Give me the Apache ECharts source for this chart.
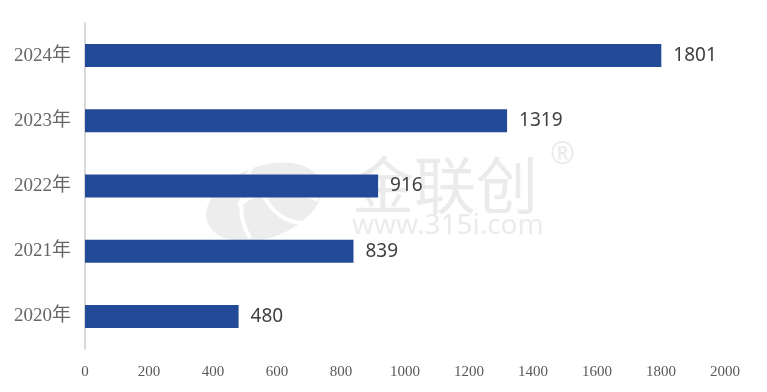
<!DOCTYPE html>
<html><head><meta charset="utf-8">
<script src="https://cdn.jsdelivr.net/npm/echarts@6/dist/echarts.min.js"></script>
<style>html,body{margin:0;padding:0;background:#fff}#c{width:767px;height:392px}</style>
</head><body><div id="c"></div>
<script>
const categories = ['2020年','2021年','2022年','2023年','2024年'];
const values = [480, 839, 916, 1319, 1801];
const xTicks = [0,200,400,600,800,1000,1200,1400,1600,1800,2000];

const chart = echarts.init(document.getElementById('c'));
chart.setOption({
  animation: false,
  graphic: [
    {type:'ellipse', z: 0, x: 264, y: 202, rotation: 0.35, shape:{cx:0, cy:0, rx:60, ry:36}, style:{fill:'#ededed'}},
    {type:'bezierCurve', z: 0, shape:{x1:252,y1:166,cpx1:240,cpy1:190,cpx2:236,cpy2:215,x2:250,y2:238}, style:{fill:null, stroke:'#fff', lineWidth:4}},
    {type:'bezierCurve', z: 0, shape:{x1:238,y1:205,cpx1:262,cpy1:188,cpx2:292,cpy2:186,x2:318,y2:200}, style:{fill:null, stroke:'#fff', lineWidth:4}},
    {type:'bezierCurve', z: 0, shape:{x1:262,y1:192,cpx1:272,cpy1:215,cpx2:290,cpy2:228,x2:322,y2:222}, style:{fill:null, stroke:'#fff', lineWidth:4}},
    {type:'text', left: 352, top: 154, z: 0, style:{text:'金联创', fontSize: 62, fill:'#ebebeb', fontFamily:'Noto Sans CJK SC'}},
    {type:'text', left: 352, top: 212, z: 0, style:{text:'www.315i.com', fontSize: 28, fill:'#ebebeb', fontFamily:'Noto Sans'}},
    {type:'text', left: 550, top: 140, z: 0, style:{text:'®', fontSize: 30, fill:'#ebebeb', fontFamily:'Noto Sans'}}
  ],
  grid: {left: 85, right: 42, top: 23, bottom: 43, containLabel: false},
  xAxis: {
    type: 'value', min: xTicks[0], max: xTicks[xTicks.length-1], interval: 200,
    axisLine: {show: false}, axisTick: {show: false}, splitLine: {show: false},
    axisLabel: {color: '#595959', fontFamily: 'Liberation Serif', fontSize: 15, margin: 16, formatter: v => String(v)}
  },
  yAxis: {
    type: 'category', data: categories,
    axisLine: {show: true, lineStyle: {color: '#d9d9d9', width: 2}},
    axisTick: {show: false},
    axisLabel: {color: '#666666', fontFamily: 'Liberation Serif, Noto Sans CJK SC', fontSize: 19, margin: 14}
  },
  series: [{
    type: 'bar', data: values, barWidth: 23, z: 2,
    itemStyle: {color: '#234A97'},
    label: {show: true, position: 'right', distance: 12, color: '#404040', fontSize: 19, fontFamily: 'Noto Sans', formatter: p => String(p.value)}
  }]
});
</script></body></html>
